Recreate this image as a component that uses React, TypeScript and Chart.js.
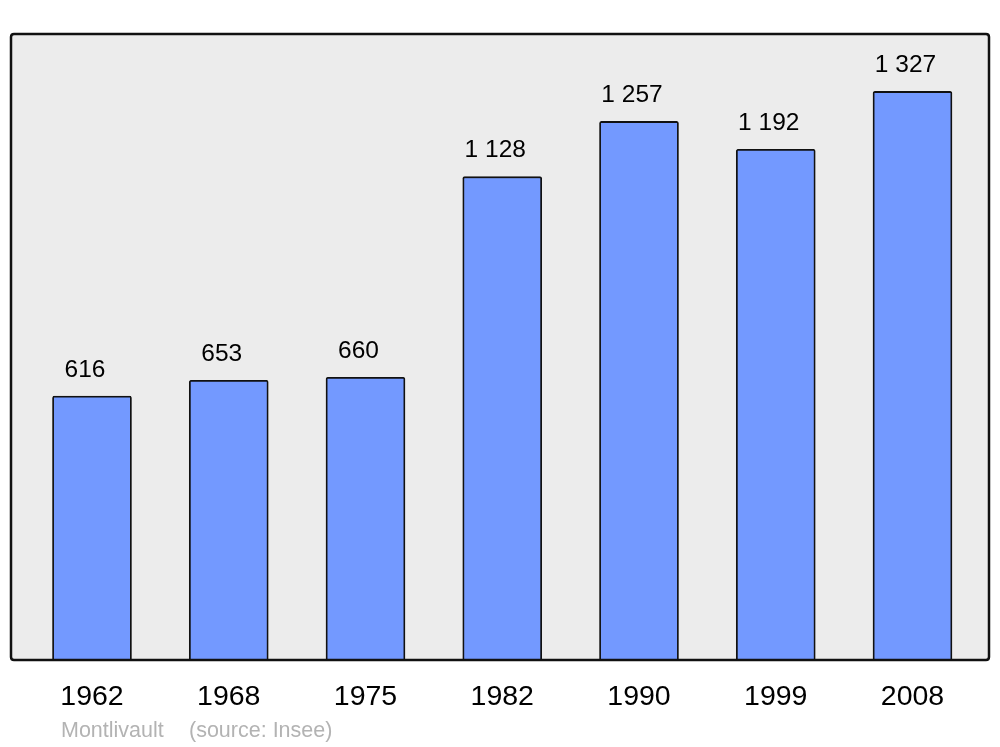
import React, { useEffect, useRef } from "react";
import { Chart, registerables } from "chart.js";

Chart.register(...registerables);

const years = ["1962", "1968", "1975", "1982", "1990", "1999", "2008"];
const population = [616, 653, 660, 1128, 1257, 1192, 1327];
const footerPlace = "Montlivault";
const footerSource = "(source: Insee)";

const FONT = "'Liberation Sans', Arial, sans-serif";

function fmt(n: number): string {
  return String(n).replace(/\B(?=(\d{3})+(?!\d))/g, " ");
}

function roundRect(ctx: CanvasRenderingContext2D, x: number, y: number, w: number, h: number, r: number) {
  ctx.beginPath();
  ctx.moveTo(x + r, y);
  ctx.lineTo(x + w - r, y);
  ctx.quadraticCurveTo(x + w, y, x + w, y + r);
  ctx.lineTo(x + w, y + h - r);
  ctx.quadraticCurveTo(x + w, y + h, x + w - r, y + h);
  ctx.lineTo(x + r, y + h);
  ctx.quadraticCurveTo(x, y + h, x, y + h - r);
  ctx.lineTo(x, y + r);
  ctx.quadraticCurveTo(x, y, x + r, y);
  ctx.closePath();
}

const framePlugin = {
  id: "frame",
  beforeDatasetsDraw(chart: any) {
    const { ctx, chartArea } = chart;
    ctx.save();
    roundRect(ctx, chartArea.left, chartArea.top, chartArea.right - chartArea.left, chartArea.bottom - chartArea.top, 3);
    ctx.fillStyle = "#ececec";
    ctx.fill();
    ctx.restore();
  },
  afterDatasetsDraw(chart: any) {
    const { ctx, chartArea } = chart;
    ctx.save();
    roundRect(ctx, chartArea.left, chartArea.top, chartArea.right - chartArea.left, chartArea.bottom - chartArea.top, 3);
    ctx.lineWidth = 2.5;
    ctx.strokeStyle = "#111111";
    ctx.stroke();
    // value labels
    const meta = chart.getDatasetMeta(0);
    ctx.fillStyle = "#000000";
    ctx.font = `24.5px ${FONT}`;
    ctx.textAlign = "center";
    ctx.textBaseline = "alphabetic";
    meta.data.forEach((bar: any, i: number) => {
      ctx.fillText(fmt(population[i]), bar.x - 7, bar.y - 19.5);
    });
    // footer
    ctx.fillStyle = "#b3b3b3";
    ctx.font = `21.5px ${FONT}`;
    ctx.textAlign = "left";
    ctx.textBaseline = "middle";
    ctx.fillText(footerPlace, 61, 731);
    ctx.fillText(footerSource, 189, 731);
    ctx.restore();
  },
};

export default function App() {
  const ref = useRef<HTMLCanvasElement>(null);
  useEffect(() => {
    if (!ref.current) return;
    const chart = new Chart(ref.current, {
      type: "bar",
      data: {
        datasets: [
          {
            data: population.map((v, i) => ({ x: i, y: v })),
            backgroundColor: "#7399ff",
            borderColor: "#111111",
            borderWidth: 1.8,
            borderRadius: { topLeft: 2, topRight: 2, bottomLeft: 0, bottomRight: 0 },
            borderSkipped: "bottom",
            barThickness: 79,
          },
        ],
      },
      options: {
        responsive: false,
        animation: false,
        devicePixelRatio: 1,
        layout: { padding: { left: 11, right: 11, top: 34, bottom: 0 } },
        plugins: { legend: { display: false }, tooltip: { enabled: false } },
        scales: {
          x: {
            type: "linear",
            offset: false,
            min: -0.5923,
            max: 6.5594,
            grid: { display: false, drawTicks: false, offset: false },
            border: { display: false },
            afterFit(scale: any) {
              scale.height = 87;
            },
            afterBuildTicks(scale: any) {
              scale.ticks = years.map((_, i) => ({ value: i }));
            },
            ticks: {
              autoSkip: false,
              maxRotation: 0,
              padding: 20,
              color: "#000000",
              font: { family: FONT, size: 28.5 },
              callback: (v: any) => years[Number(v)] ?? "",
            },
          },
          y: {
            display: false,
            min: 0,
            max: 1461,
          },
        },
      },
      plugins: [framePlugin],
    });
    return () => chart.destroy();
  }, []);
  return (
    <div style={{ position: "absolute", left: 0, top: 0, width: 1000, height: 747, background: "#ffffff" }}>
      <canvas ref={ref} width={1000} height={747} style={{ display: "block" }} />
    </div>
  );
}
